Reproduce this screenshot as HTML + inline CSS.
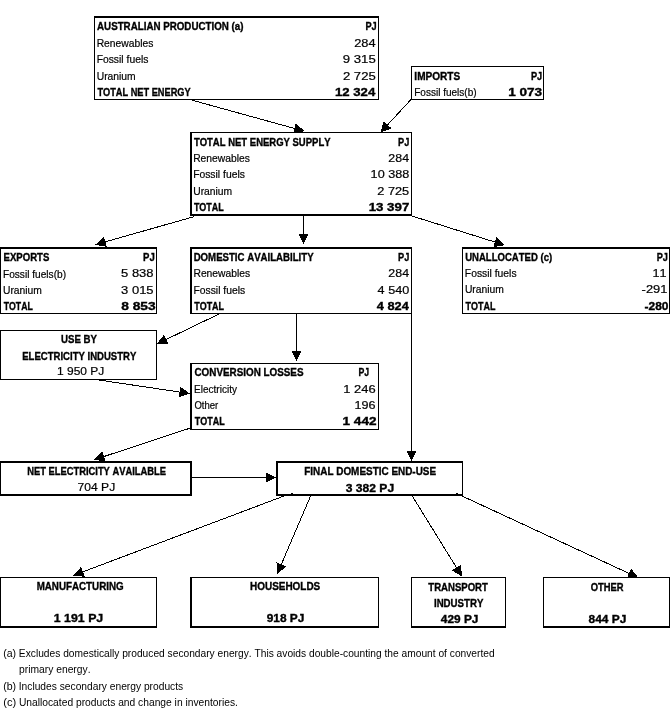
<!DOCTYPE html>
<html><head><meta charset="utf-8"><style>
html,body{margin:0;padding:0;background:#fff;width:670px;height:710px;overflow:hidden}
svg{display:block;will-change:transform}
text{font-family:"Liberation Sans",sans-serif;fill:#000;stroke:#000;stroke-width:0.2px;font-kerning:none;font-variant-ligatures:none}
</style></head><body>
<svg width="670" height="710" viewBox="0 0 670 710">
<rect width="670" height="710" fill="#fff"/>
<line x1="192.50" y1="100.30" x2="294.38" y2="128.41" stroke="#000" stroke-width="1" shape-rendering="crispEdges"/>
<polygon points="304.50,131.20 292.97,133.52 295.79,123.30" fill="#000" shape-rendering="crispEdges"/>
<line x1="411.00" y1="99.50" x2="387.63" y2="124.79" stroke="#000" stroke-width="1" shape-rendering="crispEdges"/>
<polygon points="380.50,132.50 383.73,121.19 391.52,128.39" fill="#000" shape-rendering="crispEdges"/>
<line x1="194.50" y1="216.50" x2="105.40" y2="241.83" stroke="#000" stroke-width="1" shape-rendering="crispEdges"/>
<polygon points="95.30,244.70 103.95,236.73 106.85,246.93" fill="#000" shape-rendering="crispEdges"/>
<line x1="303.50" y1="215.00" x2="303.50" y2="233.50" stroke="#000" stroke-width="1" shape-rendering="crispEdges"/>
<polygon points="303.50,244.00 298.20,233.50 308.80,233.50" fill="#000" shape-rendering="crispEdges"/>
<line x1="411.00" y1="215.70" x2="494.98" y2="242.06" stroke="#000" stroke-width="1" shape-rendering="crispEdges"/>
<polygon points="505.00,245.20 493.39,247.11 496.57,237.00" fill="#000" shape-rendering="crispEdges"/>
<line x1="219.00" y1="314.00" x2="166.26" y2="339.44" stroke="#000" stroke-width="1" shape-rendering="crispEdges"/>
<polygon points="156.80,344.00 163.95,334.66 168.56,344.21" fill="#000" shape-rendering="crispEdges"/>
<line x1="296.50" y1="313.50" x2="296.50" y2="350.50" stroke="#000" stroke-width="1" shape-rendering="crispEdges"/>
<polygon points="296.50,361.00 291.20,350.50 301.80,350.50" fill="#000" shape-rendering="crispEdges"/>
<line x1="411.50" y1="313.50" x2="411.50" y2="450.50" stroke="#000" stroke-width="1" shape-rendering="crispEdges"/>
<polygon points="411.50,461.00 406.20,450.50 416.80,450.50" fill="#000" shape-rendering="crispEdges"/>
<line x1="99.00" y1="380.00" x2="179.62" y2="392.05" stroke="#000" stroke-width="1" shape-rendering="crispEdges"/>
<polygon points="190.00,393.60 178.83,397.29 180.40,386.81" fill="#000" shape-rendering="crispEdges"/>
<line x1="190.50" y1="428.00" x2="103.97" y2="456.51" stroke="#000" stroke-width="1" shape-rendering="crispEdges"/>
<polygon points="94.00,459.80 102.31,451.48 105.63,461.55" fill="#000" shape-rendering="crispEdges"/>
<line x1="191.50" y1="477.50" x2="265.50" y2="477.50" stroke="#000" stroke-width="1" shape-rendering="crispEdges"/>
<polygon points="276.00,477.50 265.50,482.80 265.50,472.20" fill="#000" shape-rendering="crispEdges"/>
<line x1="284.80" y1="495.70" x2="82.93" y2="571.80" stroke="#000" stroke-width="1" shape-rendering="crispEdges"/>
<polygon points="73.10,575.50 81.06,566.84 84.79,576.76" fill="#000" shape-rendering="crispEdges"/>
<line x1="310.70" y1="495.70" x2="281.33" y2="564.35" stroke="#000" stroke-width="1" shape-rendering="crispEdges"/>
<polygon points="277.20,574.00 276.46,562.26 286.20,566.43" fill="#000" shape-rendering="crispEdges"/>
<line x1="412.00" y1="495.60" x2="456.48" y2="567.57" stroke="#000" stroke-width="1" shape-rendering="crispEdges"/>
<polygon points="462.00,576.50 451.97,570.35 460.99,564.78" fill="#000" shape-rendering="crispEdges"/>
<line x1="461.40" y1="495.70" x2="628.97" y2="573.38" stroke="#000" stroke-width="1" shape-rendering="crispEdges"/>
<polygon points="638.50,577.80 626.74,578.19 631.20,568.58" fill="#000" shape-rendering="crispEdges"/>
<rect x="94" y="16" width="285" height="84" fill="#000" shape-rendering="crispEdges"/>
<rect x="95" y="18" width="283" height="81" fill="#fff"/>
<rect x="411" y="66" width="133" height="34" fill="#000" shape-rendering="crispEdges"/>
<rect x="412" y="67" width="131" height="32" fill="#fff"/>
<rect x="190" y="132" width="222" height="84" fill="#000" shape-rendering="crispEdges"/>
<rect x="192" y="133" width="219" height="81" fill="#fff"/>
<rect x="0" y="247" width="157" height="67" fill="#000" shape-rendering="crispEdges"/>
<rect x="1" y="249" width="155" height="64" fill="#fff"/>
<rect x="190" y="247" width="222" height="67" fill="#000" shape-rendering="crispEdges"/>
<rect x="192" y="249" width="219" height="64" fill="#fff"/>
<rect x="462" y="247" width="208" height="67" fill="#000" shape-rendering="crispEdges"/>
<rect x="463" y="249" width="206" height="64" fill="#fff"/>
<rect x="0" y="330" width="157" height="50" fill="#000" shape-rendering="crispEdges"/>
<rect x="1" y="331" width="155" height="48" fill="#fff"/>
<rect x="190" y="363" width="189" height="67" fill="#000" shape-rendering="crispEdges"/>
<rect x="192" y="364" width="186" height="65" fill="#fff"/>
<rect x="0" y="461" width="192" height="35" fill="#000" shape-rendering="crispEdges"/>
<rect x="1" y="463" width="189" height="31" fill="#fff"/>
<rect x="276" y="461" width="187" height="35" fill="#000" shape-rendering="crispEdges"/>
<rect x="278" y="463" width="184" height="31" fill="#fff"/>
<rect x="0" y="577" width="157" height="51" fill="#000" shape-rendering="crispEdges"/>
<rect x="1" y="578" width="155" height="48" fill="#fff"/>
<rect x="190" y="577" width="189" height="51" fill="#000" shape-rendering="crispEdges"/>
<rect x="192" y="578" width="186" height="48" fill="#fff"/>
<rect x="411" y="577" width="95" height="51" fill="#000" shape-rendering="crispEdges"/>
<rect x="412" y="578" width="93" height="48" fill="#fff"/>
<rect x="543" y="577" width="127" height="51" fill="#000" shape-rendering="crispEdges"/>
<rect x="544" y="578" width="125" height="48" fill="#fff"/>
<rect x="291" y="493" width="2" height="1" fill="#000"/>
<rect x="456" y="493" width="2" height="1" fill="#000"/>
<text x="97.06" y="30.00" font-size="11" font-weight="bold" style="stroke-width:0.35px" textLength="146.43" lengthAdjust="spacingAndGlyphs">AUSTRALIAN PRODUCTION (a)</text>
<text x="365.39" y="30.00" font-size="11" font-weight="bold" style="stroke-width:0.35px" textLength="11.24" lengthAdjust="spacingAndGlyphs">PJ</text>
<text x="96.65" y="47.00" font-size="11" textLength="56.72" lengthAdjust="spacingAndGlyphs">Renewables</text>
<text x="96.65" y="63.00" font-size="11" textLength="51.72" lengthAdjust="spacingAndGlyphs">Fossil fuels</text>
<text x="96.70" y="80.00" font-size="11" textLength="38.98" lengthAdjust="spacingAndGlyphs">Uranium</text>
<text x="97.40" y="96.00" font-size="11" font-weight="bold" style="stroke-width:0.35px" textLength="93.25" lengthAdjust="spacingAndGlyphs">TOTAL NET ENERGY</text>
<text x="354.15" y="47.00" font-size="11" textLength="21.42" lengthAdjust="spacingAndGlyphs">284</text>
<text x="342.78" y="63.00" font-size="11" textLength="32.97" lengthAdjust="spacingAndGlyphs">9 315</text>
<text x="342.94" y="80.00" font-size="11" textLength="32.81" lengthAdjust="spacingAndGlyphs">2 725</text>
<text x="334.97" y="96.00" font-size="11" font-weight="bold" style="stroke-width:0.35px" textLength="40.30" lengthAdjust="spacingAndGlyphs">12 324</text>
<text x="414.33" y="80.00" font-size="11" font-weight="bold" style="stroke-width:0.35px" textLength="45.87" lengthAdjust="spacingAndGlyphs">IMPORTS</text>
<text x="530.99" y="80.00" font-size="11" font-weight="bold" style="stroke-width:0.35px" textLength="11.24" lengthAdjust="spacingAndGlyphs">PJ</text>
<text x="414.18" y="96.30" font-size="11" textLength="62.45" lengthAdjust="spacingAndGlyphs">Fossil fuels(b)</text>
<text x="508.15" y="96.30" font-size="11" font-weight="bold" style="stroke-width:0.35px" textLength="33.94" lengthAdjust="spacingAndGlyphs">1 073</text>
<text x="193.89" y="146.00" font-size="11" font-weight="bold" style="stroke-width:0.35px" textLength="136.66" lengthAdjust="spacingAndGlyphs">TOTAL NET ENERGY SUPPLY</text>
<text x="398.09" y="146.00" font-size="11" font-weight="bold" style="stroke-width:0.35px" textLength="11.24" lengthAdjust="spacingAndGlyphs">PJ</text>
<text x="193.15" y="162.00" font-size="11" textLength="56.72" lengthAdjust="spacingAndGlyphs">Renewables</text>
<text x="193.15" y="178.40" font-size="11" textLength="51.72" lengthAdjust="spacingAndGlyphs">Fossil fuels</text>
<text x="193.20" y="194.50" font-size="11" textLength="38.98" lengthAdjust="spacingAndGlyphs">Uranium</text>
<text x="193.90" y="211.30" font-size="11" font-weight="bold" style="stroke-width:0.35px" textLength="29.88" lengthAdjust="spacingAndGlyphs">TOTAL</text>
<text x="388.38" y="162.00" font-size="11" textLength="20.69" lengthAdjust="spacingAndGlyphs">284</text>
<text x="370.64" y="178.40" font-size="11" textLength="38.61" lengthAdjust="spacingAndGlyphs">10 388</text>
<text x="377.26" y="194.50" font-size="11" textLength="31.98" lengthAdjust="spacingAndGlyphs">2 725</text>
<text x="368.66" y="211.30" font-size="11" font-weight="bold" style="stroke-width:0.35px" textLength="40.62" lengthAdjust="spacingAndGlyphs">13 397</text>
<text x="3.56" y="260.90" font-size="11" font-weight="bold" style="stroke-width:0.35px" textLength="45.82" lengthAdjust="spacingAndGlyphs">EXPORTS</text>
<text x="143.06" y="260.90" font-size="11" font-weight="bold" style="stroke-width:0.35px" textLength="11.69" lengthAdjust="spacingAndGlyphs">PJ</text>
<text x="2.97" y="277.50" font-size="11" textLength="63.06" lengthAdjust="spacingAndGlyphs">Fossil fuels(b)</text>
<text x="3.01" y="293.70" font-size="11" textLength="38.87" lengthAdjust="spacingAndGlyphs">Uranium</text>
<text x="3.70" y="309.50" font-size="11" font-weight="bold" style="stroke-width:0.35px" textLength="29.07" lengthAdjust="spacingAndGlyphs">TOTAL</text>
<text x="121.08" y="277.30" font-size="11" textLength="32.48" lengthAdjust="spacingAndGlyphs">5 838</text>
<text x="121.11" y="293.60" font-size="11" textLength="32.44" lengthAdjust="spacingAndGlyphs">3 015</text>
<text x="121.16" y="309.50" font-size="11" font-weight="bold" style="stroke-width:0.35px" textLength="34.43" lengthAdjust="spacingAndGlyphs">8 853</text>
<text x="193.66" y="260.60" font-size="11" font-weight="bold" style="stroke-width:0.35px" textLength="119.90" lengthAdjust="spacingAndGlyphs">DOMESTIC AVAILABILITY</text>
<text x="398.09" y="260.60" font-size="11" font-weight="bold" style="stroke-width:0.35px" textLength="11.24" lengthAdjust="spacingAndGlyphs">PJ</text>
<text x="193.45" y="277.30" font-size="11" textLength="56.72" lengthAdjust="spacingAndGlyphs">Renewables</text>
<text x="193.45" y="293.70" font-size="11" textLength="51.72" lengthAdjust="spacingAndGlyphs">Fossil fuels</text>
<text x="194.20" y="309.50" font-size="11" font-weight="bold" style="stroke-width:0.35px" textLength="29.88" lengthAdjust="spacingAndGlyphs">TOTAL</text>
<text x="388.38" y="277.30" font-size="11" textLength="20.69" lengthAdjust="spacingAndGlyphs">284</text>
<text x="377.61" y="293.70" font-size="11" textLength="31.58" lengthAdjust="spacingAndGlyphs">4 540</text>
<text x="376.81" y="309.50" font-size="11" font-weight="bold" style="stroke-width:0.35px" textLength="31.96" lengthAdjust="spacingAndGlyphs">4 824</text>
<text x="465.13" y="260.60" font-size="11" font-weight="bold" style="stroke-width:0.35px" textLength="87.05" lengthAdjust="spacingAndGlyphs">UNALLOCATED (c)</text>
<text x="656.69" y="260.60" font-size="11" font-weight="bold" style="stroke-width:0.35px" textLength="11.24" lengthAdjust="spacingAndGlyphs">PJ</text>
<text x="464.85" y="277.30" font-size="11" textLength="51.72" lengthAdjust="spacingAndGlyphs">Fossil fuels</text>
<text x="464.90" y="293.40" font-size="11" textLength="38.98" lengthAdjust="spacingAndGlyphs">Uranium</text>
<text x="465.60" y="309.50" font-size="11" font-weight="bold" style="stroke-width:0.35px" textLength="29.88" lengthAdjust="spacingAndGlyphs">TOTAL</text>
<text x="652.54" y="277.30" font-size="11" textLength="14.08" lengthAdjust="spacingAndGlyphs">11</text>
<text x="641.63" y="293.40" font-size="11" textLength="25.80" lengthAdjust="spacingAndGlyphs">-291</text>
<text x="644.53" y="309.50" font-size="11" font-weight="bold" style="stroke-width:0.35px" textLength="23.96" lengthAdjust="spacingAndGlyphs">-280</text>
<text x="61.02" y="342.90" font-size="11" font-weight="bold" style="stroke-width:0.35px" textLength="35.94" lengthAdjust="spacingAndGlyphs">USE BY</text>
<text x="22.26" y="359.90" font-size="11" font-weight="bold" style="stroke-width:0.35px" textLength="114.09" lengthAdjust="spacingAndGlyphs">ELECTRICITY INDUSTRY</text>
<text x="56.99" y="375.40" font-size="11" textLength="47.30" lengthAdjust="spacingAndGlyphs">1 950 PJ</text>
<text x="194.50" y="376.00" font-size="11" font-weight="bold" style="stroke-width:0.35px" textLength="108.99" lengthAdjust="spacingAndGlyphs">CONVERSION LOSSES</text>
<text x="358.42" y="376.00" font-size="11" font-weight="bold" style="stroke-width:0.35px" textLength="10.68" lengthAdjust="spacingAndGlyphs">PJ</text>
<text x="194.08" y="393.00" font-size="11" textLength="42.84" lengthAdjust="spacingAndGlyphs">Electricity</text>
<text x="194.45" y="408.70" font-size="11" textLength="23.81" lengthAdjust="spacingAndGlyphs">Other</text>
<text x="194.80" y="425.20" font-size="11" font-weight="bold" style="stroke-width:0.35px" textLength="29.88" lengthAdjust="spacingAndGlyphs">TOTAL</text>
<text x="343.32" y="393.00" font-size="11" textLength="32.35" lengthAdjust="spacingAndGlyphs">1 246</text>
<text x="354.64" y="408.70" font-size="11" textLength="21.01" lengthAdjust="spacingAndGlyphs">196</text>
<text x="342.54" y="425.20" font-size="11" font-weight="bold" style="stroke-width:0.35px" textLength="34.00" lengthAdjust="spacingAndGlyphs">1 442</text>
<text x="27.17" y="474.80" font-size="11" font-weight="bold" style="stroke-width:0.35px" textLength="138.89" lengthAdjust="spacingAndGlyphs">NET ELECTRICITY AVAILABLE</text>
<text x="77.58" y="491.20" font-size="11" textLength="37.62" lengthAdjust="spacingAndGlyphs">704 PJ</text>
<text x="304.24" y="474.80" font-size="11" font-weight="bold" style="stroke-width:0.35px" textLength="131.85" lengthAdjust="spacingAndGlyphs">FINAL DOMESTIC END-USE</text>
<text x="345.82" y="491.80" font-size="11" font-weight="bold" style="stroke-width:0.35px" textLength="48.30" lengthAdjust="spacingAndGlyphs">3 382 PJ</text>
<text x="36.65" y="590.40" font-size="11" font-weight="bold" style="stroke-width:0.35px" textLength="86.96" lengthAdjust="spacingAndGlyphs">MANUFACTURING</text>
<text x="53.82" y="622.30" font-size="11" font-weight="bold" style="stroke-width:0.35px" textLength="49.42" lengthAdjust="spacingAndGlyphs">1 191 PJ</text>
<text x="250.03" y="590.40" font-size="11" font-weight="bold" style="stroke-width:0.35px" textLength="70.25" lengthAdjust="spacingAndGlyphs">HOUSEHOLDS</text>
<text x="266.69" y="622.30" font-size="11" font-weight="bold" style="stroke-width:0.35px" textLength="37.62" lengthAdjust="spacingAndGlyphs">918 PJ</text>
<text x="428.29" y="590.70" font-size="11" font-weight="bold" style="stroke-width:0.35px" textLength="59.61" lengthAdjust="spacingAndGlyphs">TRANSPORT</text>
<text x="433.95" y="606.80" font-size="11" font-weight="bold" style="stroke-width:0.35px" textLength="49.50" lengthAdjust="spacingAndGlyphs">INDUSTRY</text>
<text x="440.82" y="622.50" font-size="11" font-weight="bold" style="stroke-width:0.35px" textLength="37.59" lengthAdjust="spacingAndGlyphs">429 PJ</text>
<text x="590.82" y="590.50" font-size="11" font-weight="bold" style="stroke-width:0.35px" textLength="32.78" lengthAdjust="spacingAndGlyphs">OTHER</text>
<text x="588.52" y="622.50" font-size="11" font-weight="bold" style="stroke-width:0.35px" textLength="37.79" lengthAdjust="spacingAndGlyphs">844 PJ</text>
<text x="3.24" y="657.00" font-size="10.5" style="stroke-width:0" textLength="12.91" lengthAdjust="spacingAndGlyphs">(a)</text>
<text x="18.86" y="657.00" font-size="10.5" style="stroke-width:0" textLength="475.80" lengthAdjust="spacingAndGlyphs">Excludes domestically produced secondary energy. This avoids double-counting the amount of converted</text>
<text x="19.04" y="673.00" font-size="10.5" style="stroke-width:0" textLength="71.50" lengthAdjust="spacingAndGlyphs">primary energy.</text>
<text x="3.24" y="689.90" font-size="10.5" style="stroke-width:0" textLength="12.91" lengthAdjust="spacingAndGlyphs">(b)</text>
<text x="18.76" y="689.90" font-size="10.5" style="stroke-width:0" textLength="164.41" lengthAdjust="spacingAndGlyphs">Includes secondary energy products</text>
<text x="3.21" y="705.80" font-size="10.5" style="stroke-width:0" textLength="12.98" lengthAdjust="spacingAndGlyphs">(c)</text>
<text x="18.91" y="705.80" font-size="10.5" style="stroke-width:0" textLength="219.03" lengthAdjust="spacingAndGlyphs">Unallocated products and change in inventories.</text>
</svg>
</body></html>
